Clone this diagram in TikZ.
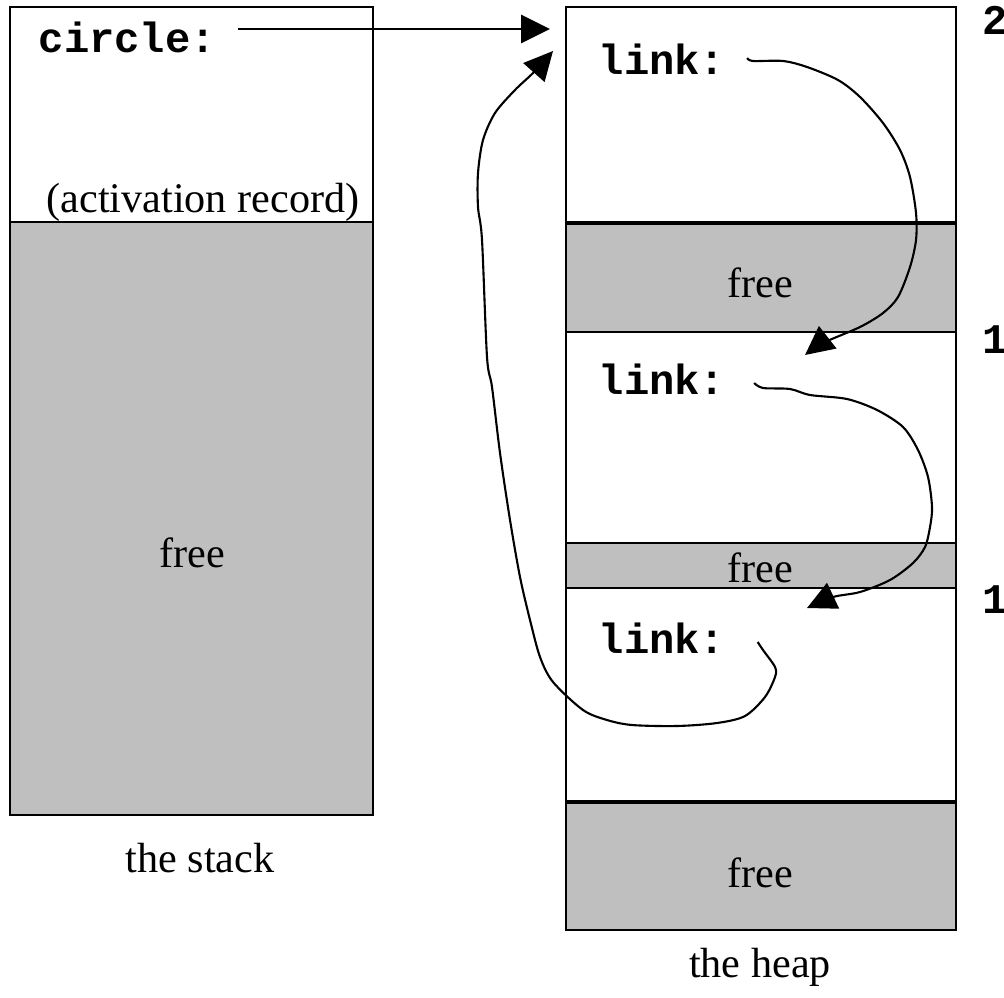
\documentclass[tikz,border=0pt]{standalone}
\usepackage{fontspec}
\setmainfont{Liberation Serif}
\setmonofont{Liberation Mono}
\usetikzlibrary{arrows.meta, positioning}
\definecolor{memgray}{rgb}{0.75,0.75,0.75}
\tikzset{code/.style={font=\fontsize{12}{14}\selectfont\ttfamily\bfseries, inner sep=0pt},
    txt/.style={font=\fontsize{12}{14}\selectfont, inner sep=0pt},
    cell/.style={draw, line width=0.6pt},
    freecell/.style={cell, fill=memgray},
    seam/.style={line width=1.2pt},
    ptr/.style={line width=0.6pt, -{Triangle[length=8.2pt, width=8pt]}}}

\begin{document}
\begin{tikzpicture}[x=0.01cm, y=-0.01cm]
        \useasboundingbox (0,0) rectangle (1004,997);
        \clip (0,0) rectangle (1004,997);
        \draw[cell] (10,7) rectangle (373,222);
        \draw[freecell] (10,222) rectangle (373,815);
        \draw[cell] (566,7) rectangle (956,223);
        \draw[freecell] (566,223) rectangle (956,332);
        \draw[cell] (566,332) rectangle (956,543);
        \draw[freecell] (566,543) rectangle (956,588);
        \draw[cell] (566,588) rectangle (956,802);
        \draw[freecell] (566,802) rectangle (956,930);
        \draw[seam] (566,223) -- (956,223);
        \draw[seam] (566,802) -- (956,802);
        \node[code, anchor=base west] (circ) at (38,53) {circle:};
        \node[txt, anchor=base] (actrec) at (203,212) {(activation record)};
        \node[txt] (sfree) at (192,553) {free};
        \node[txt] (stk) at (200,858) {the stack};
        \node[code, anchor=base west] (link1) at (598,74) {link:};
        \node[code, anchor=base west] (link2) at (598,394) {link:};
        \node[code, anchor=base west] (link3) at (598,653) {link:};
        \node[txt] (hfree1) at (760,283) {free};
        \node[txt] (hfree2) at (760,568) {free};
        \node[txt] (hfree3) at (760,873) {free};
        \node[txt] (hp) at (760,967) {the heap};
        \node[code, anchor=base west] (a1) at (982,35) {2};
        \node[code, anchor=base west] (a2) at (982,353) {1};
        \node[code, anchor=base west] (a3) at (982,613) {1};
        \coordinate (top1) at (550,29);
        \coordinate (top2) at (553,51);
        \coordinate (in2) at (805,355);
        \coordinate (in3) at (807,608);
        \draw[ptr] ([xshift=6pt]circ.east |- 0,29) -- (top1);
        \draw[ptr] plot[smooth, tension=0.5] coordinates {([xshift=6pt]link1.east |- 0,58) (753,61) (783,61) (807,67)
            (838,80) (860,97) (883,123) (900,150) (910,177) (916,213) (916,240) (910,267) (898,297)
            (883,313) (860,327) (823,343) (in2)};
        \draw[ptr] plot[smooth, tension=0.5] coordinates {([xshift=8pt]link2.east |- 0,383) (763,388) (790,389)
            (810,395) (847,399) (877,410) (903,427) (918,450) (928,477) (932,507) (930,527) (925,547)
            (913,563) (890,580) (860,592) (833,597) (in3)};
        \draw[ptr] plot[smooth, tension=0.5] coordinates {([xshift=9pt]link3.east |- 0,642) (763,650) (775,667)
            (775,677) (765,697) (745,716) (717,723) (677,726) (632,725) (607,720) (583,710) (553,682)
            (540,657) (530,620) (520,577) (510,520) (500,453) (492,387) (487,357) (482,240) (478,207)
            (478,173) (483,140) (495,113) (515,90) (533,73) (top2)};
\end{tikzpicture}
\end{document}
